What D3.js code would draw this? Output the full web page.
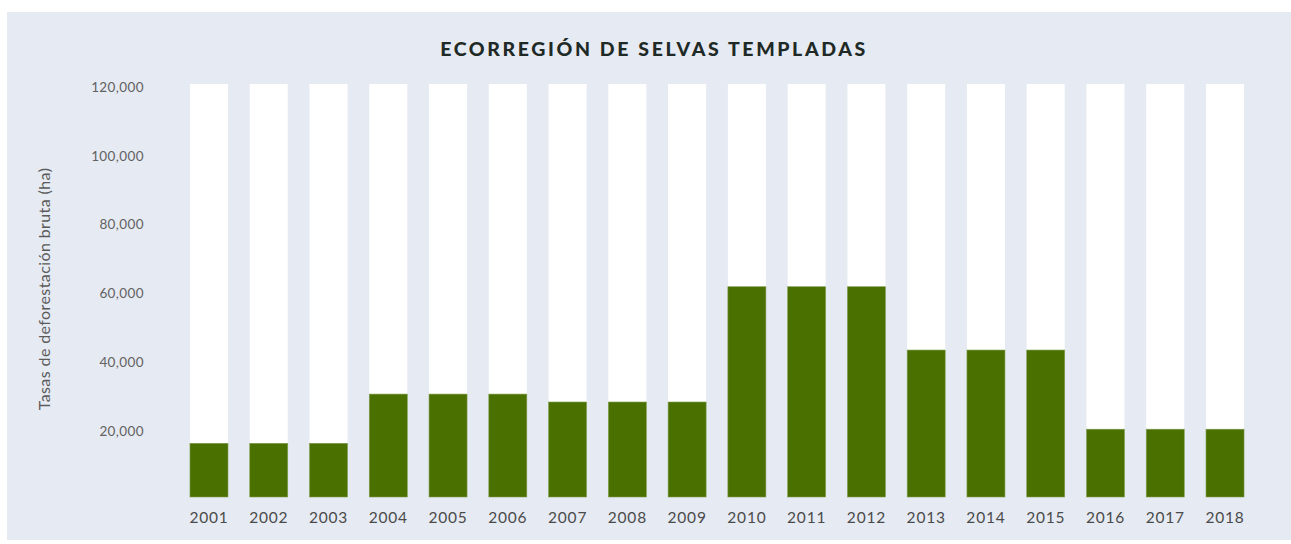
<!DOCTYPE html>
<html>
<head>
<meta charset="utf-8">
<script src="https://cdn.jsdelivr.net/npm/d3@7/dist/d3.min.js"></script>
<style>
  html, body { margin: 0; padding: 0; background: #ffffff; }
  svg { display: block; }
</style>
</head>
<body>
<svg id="chart" width="1291" height="544"></svg>
<script>
// Gross deforestation rate per year, temperate forest ecoregion (ha)
const years = ["2001","2002","2003","2004","2005","2006","2007","2008","2009",
               "2010","2011","2012","2013","2014","2015","2016","2017","2018"];
const deforestation = [15600, 15600, 15600, 29900, 29900, 29900, 27600, 27600, 27600,
                       61100, 61100, 61100, 42700, 42700, 42700, 19700, 19700, 19700];
const yTicks = [20000, 40000, 60000, 80000, 100000, 120000];
const yMax = 120000;

const title = "ECORREGIÓN DE SELVAS TEMPLADAS";
const yTitle = "Tasas de deforestación bruta (ha)";

const svg = d3.select("#chart");

// panel background
svg.append("rect")
  .attr("x", 7).attr("y", 12)
  .attr("width", 1284).attr("height", 528)
  .attr("fill", "#e6eaf3");

const x = d3.scaleBand()
  .domain(years)
  .range([179.1, 1254.9])
  .paddingInner(0.364)
  .paddingOuter(0.182);

const y = d3.scaleLinear()
  .domain([0, yMax])
  .range([497, 84]);

// full-height white backdrop columns
svg.append("g").selectAll("rect")
  .data(years)
  .join("rect")
  .attr("x", d => x(d))
  .attr("y", y(yMax))
  .attr("width", x.bandwidth())
  .attr("height", y(0) - y(yMax))
  .attr("fill", "#ffffff");

// value bars
svg.append("g").selectAll("rect")
  .data(years.map((yr, i) => ({ yr, v: deforestation[i] })))
  .join("rect")
  .attr("x", d => x(d.yr))
  .attr("y", d => y(d.v))
  .attr("width", x.bandwidth())
  .attr("height", d => y(0) - y(d.v))
  .attr("fill", "#4a7000")
  .attr("stroke", "#7f9c4c")
  .attr("stroke-width", 0.6);

// y axis labels
const yAxis = d3.axisLeft(y)
  .tickValues(yTicks)
  .tickFormat(d3.format(","))
  .tickSize(0)
  .tickPadding(0);
const yg = svg.append("g")
  .attr("transform", "translate(144,3)")
  .call(yAxis);
yg.select(".domain").remove();
yg.selectAll("text")
  .attr("fill", "#626262")
  .style("font-family", "Lato, 'Open Sans', sans-serif")
  .style("font-weight", 400)
  .style("font-size", "13.5px")
  .style("letter-spacing", "0.4px");

// x axis labels
const xAxis = d3.axisBottom(x).tickSize(0).tickPadding(0);
const xg = svg.append("g")
  .attr("transform", "translate(0,512)")
  .call(xAxis);
xg.select(".domain").remove();
xg.selectAll("text")
  .attr("fill", "#4a4a4a")
  .style("font-family", "Lato, 'Open Sans', sans-serif")
  .style("font-weight", 400)
  .style("font-size", "15.5px")
  .style("letter-spacing", "0.8px");

// title
svg.append("text")
  .attr("x", 654)
  .attr("y", 56)
  .attr("text-anchor", "middle")
  .attr("fill", "#1f2a26")
  .style("font-family", "Lato, 'Open Sans', sans-serif")
  .style("font-weight", 900)
  .style("font-size", "19.5px")
  .style("letter-spacing", "2.6px")
  .text(title);

// y axis title
svg.append("text")
  .attr("transform", "translate(50,289) rotate(-90)")
  .attr("text-anchor", "middle")
  .attr("fill", "#5a5a5a")
  .style("font-family", "Lato, 'Open Sans', sans-serif")
  .style("font-weight", 400)
  .style("font-size", "16px")
  .style("letter-spacing", "0.4px")
  .text(yTitle);
</script>
</body>
</html>
